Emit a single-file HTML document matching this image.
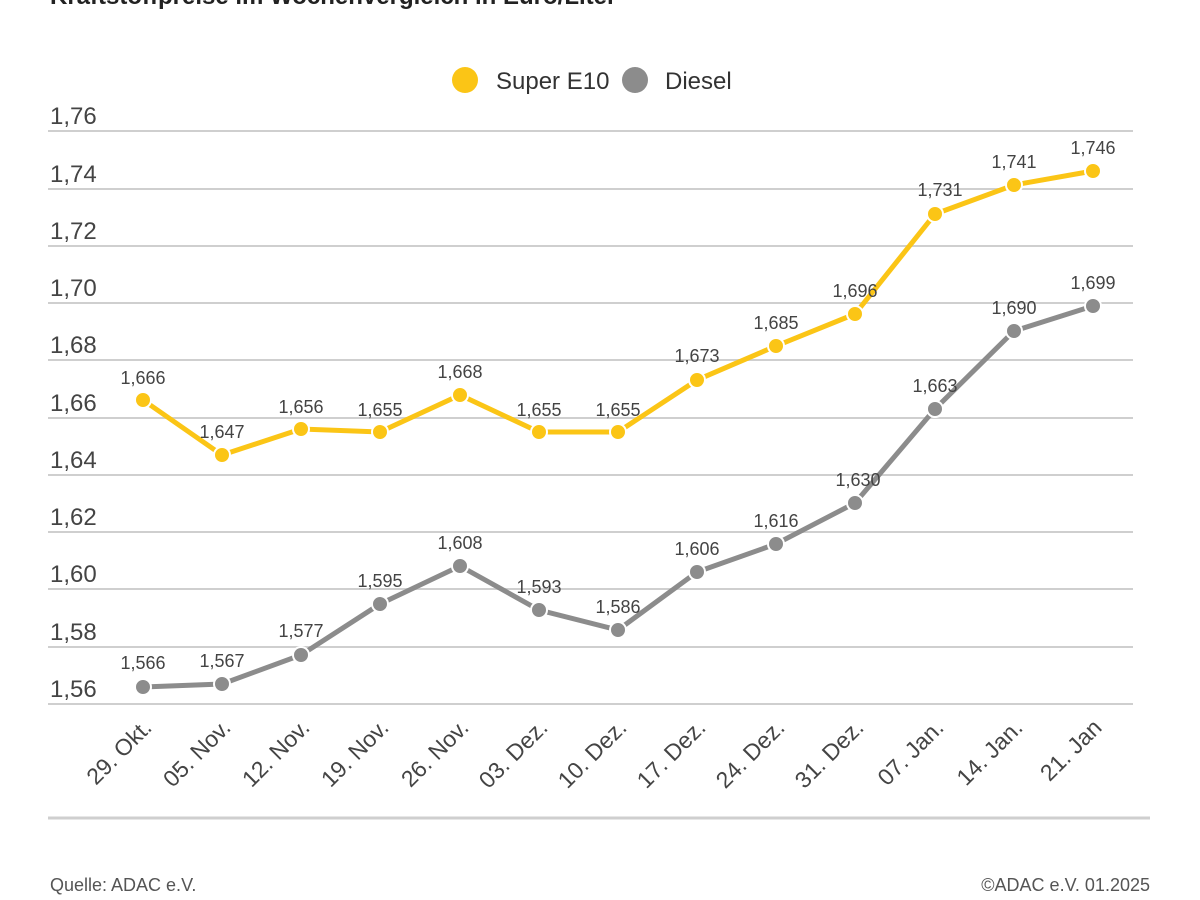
<!DOCTYPE html>
<html><head><meta charset="utf-8"><style>
html,body{margin:0;padding:0;background:#fff;}
svg{display:block;font-family:"Liberation Sans",sans-serif;}
</style></head><body>
<svg width="1200" height="900" viewBox="0 0 1200 900">
<text x="50" y="4" font-size="24" font-weight="bold" fill="#222">Kraftstoffpreise im Wochenvergleich in Euro/Liter</text>
<circle cx="465" cy="80" r="13" fill="#fbc516"/>
<text x="496" y="89" font-size="24" fill="#333">Super E10</text>
<circle cx="635" cy="80" r="13" fill="#8c8c8c"/>
<text x="665" y="89" font-size="24" fill="#333">Diesel</text>
<g stroke="#cfcfcf" stroke-width="2">
<line x1="48" x2="1133" y1="131" y2="131"/><line x1="48" x2="1133" y1="189" y2="189"/>
<line x1="48" x2="1133" y1="246" y2="246"/><line x1="48" x2="1133" y1="303" y2="303"/>
<line x1="48" x2="1133" y1="360" y2="360"/><line x1="48" x2="1133" y1="418" y2="418"/>
<line x1="48" x2="1133" y1="475" y2="475"/><line x1="48" x2="1133" y1="532" y2="532"/>
<line x1="48" x2="1133" y1="589" y2="589"/><line x1="48" x2="1133" y1="647" y2="647"/>
<line x1="48" x2="1133" y1="704" y2="704"/>
</g>
<g font-size="24" fill="#444">
<text x="50" y="124">1,76</text><text x="50" y="182">1,74</text><text x="50" y="239">1,72</text>
<text x="50" y="296">1,70</text><text x="50" y="353">1,68</text><text x="50" y="411">1,66</text>
<text x="50" y="468">1,64</text><text x="50" y="525">1,62</text><text x="50" y="582">1,60</text>
<text x="50" y="640">1,58</text><text x="50" y="697">1,56</text>
</g>
<line x1="48" x2="1150" y1="818" y2="818" stroke="#cfcfcf" stroke-width="3"/>
<polyline fill="none" stroke="#fbc516" stroke-width="5" points="143,400 222,455 301,429 380,432 460,395 539,432 618,432 697,380 776,346 855,314 935,214 1014,185 1093,171"/>
<polyline fill="none" stroke="#8c8c8c" stroke-width="5" points="143,687 222,684 301,655 380,604 460,566 539,610 618,630 697,572 776,544 855,503 935,409 1014,331 1093,306"/>
<g fill="#fbc516" stroke="#fff" stroke-width="2">
<circle cx="143" cy="400" r="8"/><circle cx="222" cy="455" r="8"/><circle cx="301" cy="429" r="8"/><circle cx="380" cy="432" r="8"/><circle cx="460" cy="395" r="8"/><circle cx="539" cy="432" r="8"/><circle cx="618" cy="432" r="8"/><circle cx="697" cy="380" r="8"/><circle cx="776" cy="346" r="8"/><circle cx="855" cy="314" r="8"/><circle cx="935" cy="214" r="8"/><circle cx="1014" cy="185" r="8"/><circle cx="1093" cy="171" r="8"/>
</g>
<g fill="#8c8c8c" stroke="#fff" stroke-width="2">
<circle cx="143" cy="687" r="8"/><circle cx="222" cy="684" r="8"/><circle cx="301" cy="655" r="8"/><circle cx="380" cy="604" r="8"/><circle cx="460" cy="566" r="8"/><circle cx="539" cy="610" r="8"/><circle cx="618" cy="630" r="8"/><circle cx="697" cy="572" r="8"/><circle cx="776" cy="544" r="8"/><circle cx="855" cy="503" r="8"/><circle cx="935" cy="409" r="8"/><circle cx="1014" cy="331" r="8"/><circle cx="1093" cy="306" r="8"/>
</g>
<g font-size="18" fill="#444" text-anchor="middle">
<text x="143" y="384">1,666</text><text x="222" y="438">1,647</text><text x="301" y="413">1,656</text><text x="380" y="416">1,655</text><text x="460" y="378">1,668</text><text x="539" y="416">1,655</text><text x="618" y="416">1,655</text><text x="697" y="362">1,673</text><text x="776" y="329">1,685</text><text x="855" y="297">1,696</text><text x="940" y="196">1,731</text><text x="1014" y="168">1,741</text><text x="1093" y="154">1,746</text>
<text x="143" y="669">1,566</text><text x="222" y="667">1,567</text><text x="301" y="637">1,577</text><text x="380" y="587">1,595</text><text x="460" y="549">1,608</text><text x="539" y="593">1,593</text><text x="618" y="613">1,586</text><text x="697" y="555">1,606</text><text x="776" y="527">1,616</text><text x="858" y="486">1,630</text><text x="935" y="392">1,663</text><text x="1014" y="314">1,690</text><text x="1093" y="289">1,699</text>
</g>
<g font-size="23" fill="#444" text-anchor="end">
<text transform="translate(153,729) rotate(-45)">29. Okt.</text>
<text transform="translate(232,729) rotate(-45)">05. Nov.</text>
<text transform="translate(311,729) rotate(-45)">12. Nov.</text>
<text transform="translate(390,729) rotate(-45)">19. Nov.</text>
<text transform="translate(470,729) rotate(-45)">26. Nov.</text>
<text transform="translate(549,729) rotate(-45)">03. Dez.</text>
<text transform="translate(628,729) rotate(-45)">10. Dez.</text>
<text transform="translate(707,729) rotate(-45)">17. Dez.</text>
<text transform="translate(786,729) rotate(-45)">24. Dez.</text>
<text transform="translate(865,729) rotate(-45)">31. Dez.</text>
<text transform="translate(945,729) rotate(-45)">07. Jan.</text>
<text transform="translate(1024,729) rotate(-45)">14. Jan.</text>
<text transform="translate(1103,729) rotate(-45)">21. Jan</text>
</g>
<text x="50" y="891" font-size="18" fill="#555">Quelle: ADAC e.V.</text>
<text x="1150" y="891" font-size="18" fill="#555" text-anchor="end">©ADAC e.V. 01.2025</text>
</svg>
</body></html>
